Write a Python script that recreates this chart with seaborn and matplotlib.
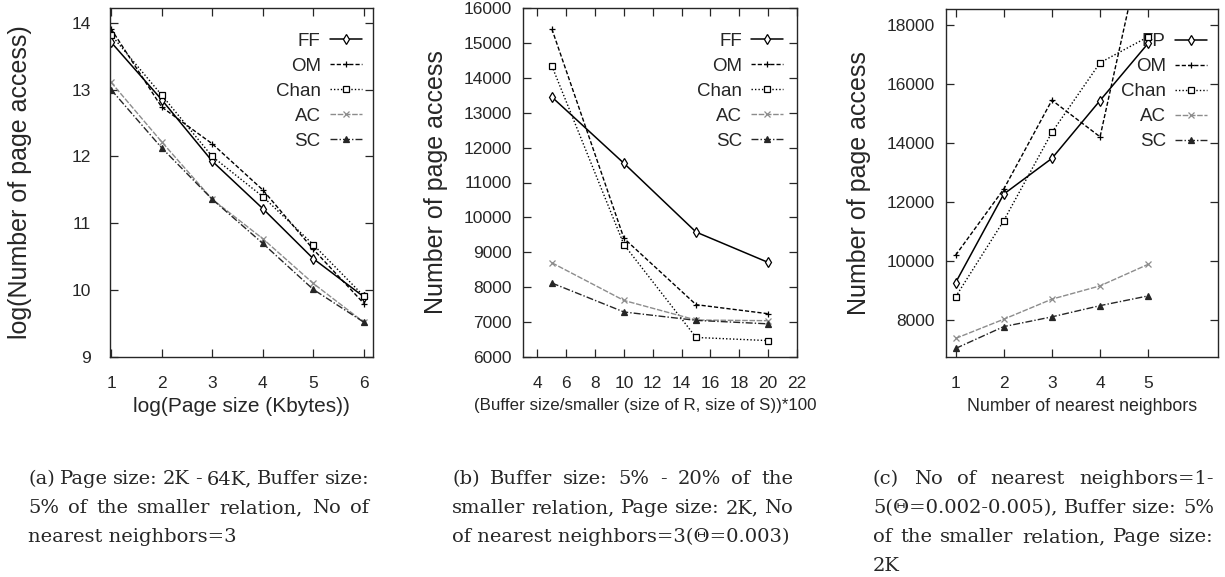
import numpy as np
import pandas as pd
import seaborn as sns
from matplotlib import pyplot as plt

# (a) page size experiment
page_x = [1, 2, 3, 4, 5, 6]
page_ff = [13.71, 12.85, 11.93, 11.22, 10.47, 9.90]
page_om = [13.91, 12.74, 12.19, 11.50, 10.61, 9.80]
page_chan = [13.82, 12.92, 12.00, 11.40, 10.68, 9.91]
page_ac = [13.11, 12.22, 11.36, 10.77, 10.10, 9.52]
page_sc = [13.00, 12.13, 11.36, 10.70, 10.01, 9.52]

# (b) buffer size experiment
buf_x = [5, 10, 15, 20]
buf_ff = [13450, 11550, 9580, 8710]
buf_om = [15400, 9400, 7500, 7240]
buf_chan = [14340, 9220, 6560, 6470]
buf_ac = [8700, 7620, 7060, 7040]
buf_sc = [8120, 7290, 7050, 6950]

# (c) number of nearest neighbors experiment
knn_x = [1, 2, 3, 4, 5]
knn_fp = [9270, 12270, 13480, 15440, 17380]
knn_om = [10200, 12440, 15450, 14210, 21600]
knn_chan = [8790, 11370, 14360, 16720, 17600]
knn_ac = [7380, 8030, 8710, 9160, 9890]
knn_sc = [7040, 7780, 8110, 8490, 8820]

names = ['FF', 'OM', 'Chan', 'AC', 'SC']
knn_names = ['FP', 'OM', 'Chan', 'AC', 'SC']

captions = {
    'a': ["(a) Page size: 2K - 64K, Buffer size:",
          "5% of the smaller relation, No of",
          "nearest neighbors=3"],
    'b': ["(b) Buffer size: 5% - 20% of the",
          "smaller relation, Page size: 2K, No",
          "of nearest neighbors=3(\u0398=0.003)"],
    'c': ["(c) No of nearest neighbors=1-",
          "5(\u0398=0.002-0.005), Buffer size: 5%",
          "of the smaller relation, Page size:",
          "2K"],
}

STYLES = [
    dict(color='black', marker='d', linestyle='-', linewidth=1.1, markerfacecolor='white'),
    dict(color='black', marker='+', linestyle=(0, (3, 1.5)), linewidth=1.0, markerfacecolor='black'),
    dict(color='black', marker='s', linestyle=(0, (1, 1.5)), linewidth=1.0, markerfacecolor='white'),
    dict(color='0.55', marker='x', linestyle=(0, (4, 1.2)), linewidth=1.0, markerfacecolor='0.55'),
    dict(color='0.15', marker='^', linestyle=(0, (5, 1.5, 1, 1.5)), linewidth=1.0, markerfacecolor='0.15'),
]

sns.set_style('ticks')
plt.rcParams['font.family'] = ['Liberation Sans', 'DejaVu Sans']
plt.rcParams['xtick.direction'] = 'in'
plt.rcParams['ytick.direction'] = 'in'

W, H = 1225, 577
fig = plt.figure(figsize=(W / 100, H / 100), dpi=100)


def px_axes(left, right, top, bottom):
    return fig.add_axes([left / W, 1 - bottom / H, (right - left) / W, (bottom - top) / H])


def draw_panel(ax, x, series, labels, legend_anchor):
    for vals, lab, st in zip(series, labels, STYLES):
        df = pd.DataFrame({'x': x, 'y': vals})
        sns.lineplot(data=df, x='x', y='y', ax=ax, label=lab,
                     markersize=5, markeredgewidth=0.9,
                     markeredgecolor=st['color'], **st)
    ax.legend(loc='upper right', bbox_to_anchor=legend_anchor, frameon=False,
              markerfirst=False, fontsize=13.5, handlelength=1.7, handletextpad=0.5,
              labelspacing=0.42, borderpad=0, borderaxespad=0, numpoints=1)
    ax.get_legend().set_zorder(1)
    ax.tick_params(top=True, right=True, length=6, width=0.9, labelsize=12.5)
    for s in ax.spines.values():
        s.set_linewidth(1.0)
        s.set_visible(True)


ylab_font = dict(fontsize=18)

# panel a
ax1 = px_axes(110, 373, 8, 357)
draw_panel(ax1, page_x, [page_ff, page_om, page_chan, page_ac, page_sc], names, (0.958, 0.93))
ax1.set_xlim(0.98, 6.18)
ax1.set_ylim(9, 14.22)
ax1.set_xticks(range(1, 7))
ax1.set_yticks(range(9, 15))
ax1.tick_params(axis='y', pad=14)
ax1.tick_params(axis='x', pad=14)
ax1.set_xlabel('log(Page size (Kbytes))', fontsize=15, labelpad=4)
ax1.set_ylabel('log(Number of page access)', labelpad=28, **ylab_font)

# panel b
ax2 = px_axes(523, 797, 8, 357)
draw_panel(ax2, buf_x, [buf_ff, buf_om, buf_chan, buf_ac, buf_sc], names, (0.95, 0.93))
ax2.set_xlim(3, 22)
ax2.set_ylim(6000, 16000)
ax2.set_xticks(range(4, 23, 2))
ax2.set_yticks(range(6000, 16001, 1000))
ax2.tick_params(axis='y', pad=8)
ax2.tick_params(axis='x', pad=14)
ax2.set_xlabel('(Buffer size/smaller (size of R, size of S))*100', fontsize=12.2, labelpad=5)
ax2.xaxis.label.set_x(0.445)
ax2.set_ylabel('Number of page access', labelpad=11, **ylab_font)

# panel c
ax3 = px_axes(946, 1218, 9, 357)
draw_panel(ax3, knn_x, [knn_fp, knn_om, knn_chan, knn_ac, knn_sc], knn_names, (0.96, 0.93))
ax3.set_xlim(0.8, 6.45)
ax3.set_ylim(6750, 18540)
ax3.set_xticks(range(1, 6))
ax3.set_yticks(range(8000, 18001, 2000))
ax3.tick_params(axis='y', pad=8)
ax3.tick_params(axis='x', pad=14)
ax3.set_xlabel('Number of nearest neighbors', fontsize=12.8, labelpad=5)
ax3.set_ylabel('Number of page access', labelpad=11, **ylab_font)

# justified captions under each panel
renderer = fig.canvas.get_renderer()
cap_font = dict(family=['DejaVu Serif'], fontsize=14, va='center')


def caption(x0, lines, width=341, y0=479, step=29):
    for i, line in enumerate(lines):
        y = 1 - (y0 + i * step) / H
        words = line.split(' ')
        if i == len(lines) - 1 or len(words) == 1:
            fig.text(x0 / W, y, line, **cap_font)
            continue
        texts = [fig.text(0, y, w, **cap_font) for w in words]
        widths = [t.get_window_extent(renderer).width for t in texts]
        gap = max((width - sum(widths)) / (len(words) - 1), 3)
        xx = x0
        for t, w in zip(texts, widths):
            t.set_x(xx / W)
            xx += w + gap


caption(28, captions['a'])
caption(452, captions['b'])
caption(873, captions['c'])

fig.savefig('out.png', dpi=100)
